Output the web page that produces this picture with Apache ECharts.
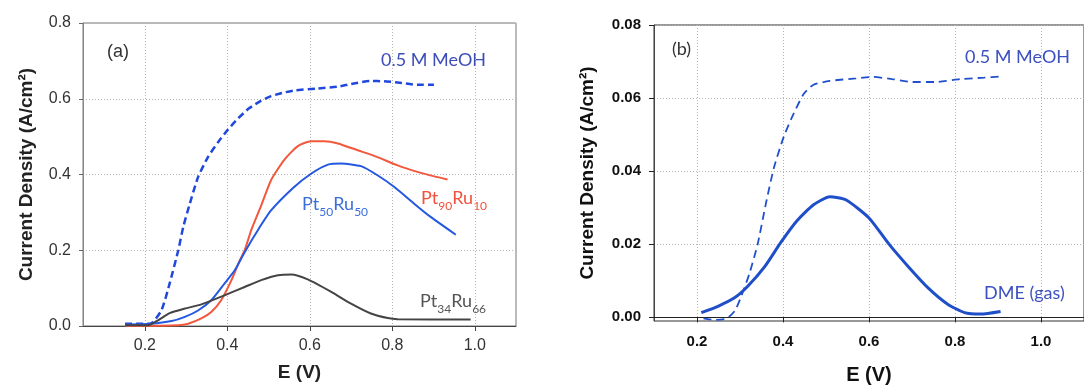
<!DOCTYPE html>
<html>
<head>
<meta charset="utf-8">
<script src="https://cdn.jsdelivr.net/npm/echarts@6/dist/echarts.min.js"></script>
<style>
html, body { margin: 0; padding: 0; background: #fff; }
#chart { width: 1084px; height: 390px; }
</style>
</head>
<body>
<div id="chart"></div>
<script>
// panel (a): methanol on PtRu catalysts, [E (V), j (A/cm2)]
const meohA = [[0.152,0.006],[0.212,0.006],[0.240,0.041],[0.260,0.112],[0.281,0.200],[0.293,0.261],[0.309,0.323],[0.329,0.393],[0.353,0.446],[0.378,0.486],[0.402,0.519],[0.426,0.548],[0.452,0.574],[0.482,0.595],[0.506,0.607],[0.540,0.617],[0.563,0.622],[0.619,0.627],[0.668,0.632],[0.700,0.639],[0.748,0.647],[0.780,0.646],[0.813,0.643],[0.861,0.637],[0.901,0.637]];
const pt90ru10 = [[0.152,0.000],[0.281,0.002],[0.305,0.006],[0.337,0.020],[0.361,0.037],[0.385,0.068],[0.410,0.121],[0.430,0.173],[0.442,0.200],[0.458,0.253],[0.482,0.318],[0.506,0.385],[0.539,0.440],[0.571,0.475],[0.603,0.488],[0.635,0.488],[0.668,0.482],[0.716,0.464],[0.764,0.446],[0.813,0.424],[0.861,0.407],[0.902,0.395],[0.934,0.387]];
const pt50ru50 = [[0.152,0.004],[0.214,0.006],[0.265,0.013],[0.297,0.024],[0.329,0.041],[0.361,0.068],[0.393,0.112],[0.418,0.147],[0.442,0.195],[0.474,0.253],[0.506,0.305],[0.560,0.365],[0.603,0.402],[0.644,0.426],[0.676,0.429],[0.724,0.422],[0.764,0.398],[0.805,0.367],[0.853,0.323],[0.893,0.288],[0.954,0.241]];
const pt34ru66 = [[0.152,0.002],[0.208,0.002],[0.232,0.015],[0.260,0.034],[0.297,0.046],[0.337,0.057],[0.393,0.081],[0.442,0.103],[0.482,0.121],[0.523,0.134],[0.555,0.136],[0.595,0.123],[0.652,0.090],[0.700,0.059],[0.748,0.033],[0.789,0.021],[0.813,0.018],[0.990,0.017]];

// panel (b): methanol vs DME gas
const meohB = [[0.215,-0.0003],[0.242,-0.0007],[0.269,-0.0003],[0.288,0.0018],[0.303,0.0058],[0.322,0.0120],[0.341,0.0200],[0.360,0.0310],[0.379,0.0410],[0.402,0.0495],[0.425,0.0558],[0.448,0.0611],[0.470,0.0636],[0.509,0.0647],[0.570,0.0654],[0.608,0.0658],[0.654,0.0652],[0.700,0.0644],[0.753,0.0644],[0.814,0.0652],[0.868,0.0656],[0.906,0.0659]];
const dmeGas = [[0.210,0.0013],[0.250,0.0031],[0.288,0.0054],[0.318,0.0085],[0.357,0.0138],[0.395,0.0205],[0.433,0.0265],[0.471,0.0308],[0.509,0.0330],[0.547,0.0321],[0.600,0.0272],[0.646,0.0201],[0.692,0.0138],[0.738,0.0080],[0.783,0.0036],[0.822,0.0013],[0.860,0.0009],[0.906,0.0016]];

const xTicks = [0.2, 0.4, 0.6, 0.8, 1.0];
const yTicksB = [0, 0.02, 0.04, 0.06, 0.08];

const SANS = '"Liberation Sans", Arial, sans-serif';
const NOTE = 'Lato, "Open Sans", sans-serif';
const dotted = { show: true, lineStyle: { color: '#b4b4b4', type: [1, 2], width: 1 } };

const chart = echarts.init(document.getElementById('chart'), null, { renderer: 'canvas' });

function line(data, xi, color, width, dash) {
  return {
    type: 'line', xAxisIndex: xi, yAxisIndex: xi, data, z: 5,
    showSymbol: false, smooth: 0.2, silent: true,
    lineStyle: { color, width, type: dash || 'solid' },
  };
}

function sub(x, y, a, n1, b, n2, color) {
  return {
    type: 'text', x, y,
    style: {
      text: `{m|${a}}{s|${n1}}{m|${b}}{s|${n2}}`,
      verticalAlign: 'middle',
      rich: {
        m: { fontFamily: NOTE, fontSize: 18, fill: color, lineHeight: 20, verticalAlign: 'bottom' },
        s: { fontFamily: NOTE, fontSize: 12, fill: color, lineHeight: 20, verticalAlign: 'bottom', padding: [0, 0, -5, 0] },
      },
    },
  };
}

function note(x, y, text, color, size, family) {
  return { type: 'text', x, y, style: { text, fill: color, fontSize: size || 18, fontFamily: family || NOTE, verticalAlign: 'middle' } };
}

chart.setOption({
  animation: false,
  backgroundColor: '#fff',
  grid: [
    { left: 83, top: 23, width: 433, height: 303, show: true, borderColor: '#777', borderWidth: 1 },
    { left: 654, top: 25, width: 440, height: 301, show: true, borderColor: '#333', borderWidth: 1 },
  ],
  xAxis: [
    {
      gridIndex: 0, type: 'value', min: 0.05, max: 1.1,
      name: 'E (V)', nameLocation: 'middle', nameGap: 37,
      nameTextStyle: { fontFamily: SANS, fontWeight: 'bold', fontSize: 19, color: '#222' },
      axisLine: { lineStyle: { color: '#444' } },
      axisTick: { show: true, length: 5, lineStyle: { color: '#444' }, customValues: xTicks },
      axisLabel: { customValues: xTicks, fontFamily: SANS, fontSize: 16, color: '#333', margin: 12, formatter: v => v.toFixed(1) },
      splitLine: dotted,
    },
    {
      gridIndex: 1, type: 'value', min: 0.1, max: 1.1,
      name: 'E (V)', nameLocation: 'middle', nameGap: 44,
      nameTextStyle: { fontFamily: SANS, fontWeight: 'bold', fontSize: 20, color: '#111' },
      axisLine: { lineStyle: { color: '#222' } },
      axisTick: { show: true, length: 5, lineStyle: { color: '#222' }, customValues: xTicks },
      axisLabel: { customValues: xTicks, fontFamily: SANS, fontWeight: 'bold', fontSize: 15, color: '#111', margin: 13, formatter: v => v.toFixed(1) },
      splitLine: dotted,
    },
  ],
  yAxis: [
    {
      gridIndex: 0, type: 'value', min: 0, max: 0.8, interval: 0.2,
      name: 'Current Density (A/cm²)', nameLocation: 'middle', nameGap: 47,
      nameTextStyle: { fontFamily: SANS, fontWeight: 'bold', fontSize: 19, color: '#222' },
      axisLine: { show: true, lineStyle: { color: '#888' } },
      axisTick: { show: true, length: 4, lineStyle: { color: '#666' } },
      axisLabel: { fontFamily: SANS, fontSize: 16, color: '#333', margin: 12, formatter: v => v.toFixed(1) },
      splitLine: dotted,
    },
    {
      gridIndex: 1, type: 'value', min: -0.001, max: 0.08,
      name: 'Current Density (A/cm²)', nameLocation: 'middle', nameGap: 57,
      nameTextStyle: { fontFamily: SANS, fontWeight: 'bold', fontSize: 19, color: '#111' },
      axisLine: { show: true, lineStyle: { color: '#444' } },
      axisTick: { show: true, length: 5, lineStyle: { color: '#222' }, customValues: yTicksB },
      axisLabel: { customValues: yTicksB, fontFamily: SANS, fontWeight: 'bold', fontSize: 15, color: '#111', margin: 13, formatter: v => v.toFixed(2) },
      splitLine: dotted,
    },
  ],
  series: [
    line(meohA, 0, '#2148dc', 2.5, [7, 4]),
    line(pt90ru10, 0, '#f2583c', 2),
    line(pt50ru50, 0, '#2458e0', 2),
    line(pt34ru66, 0, '#444444', 2),
    line(meohB, 1, '#2050cc', 1.8, [8, 5]),
    line(dmeGas, 1, '#1f4fc8', 3),
  ],
  graphic: [
    note(107, 52, '(a)', '#333', 18, SANS),
    note(381, 60, '0.5 M MeOH', '#3c4db8'),
    sub(302, 203, 'Pt', '50', 'Ru', '50', '#3a6edc'),
    sub(421, 197, 'Pt', '90', 'Ru', '10', '#f2503c'),
    sub(420, 300, 'Pt', '34', 'Ru', '66', '#555'),
    note(672, 49, '(b)', '#333', 18),
    note(965, 57, '0.5 M MeOH', '#3c50c0'),
    note(984, 293, 'DME (gas)', '#3c50c0'),
  ],
});
</script>
</body>
</html>
